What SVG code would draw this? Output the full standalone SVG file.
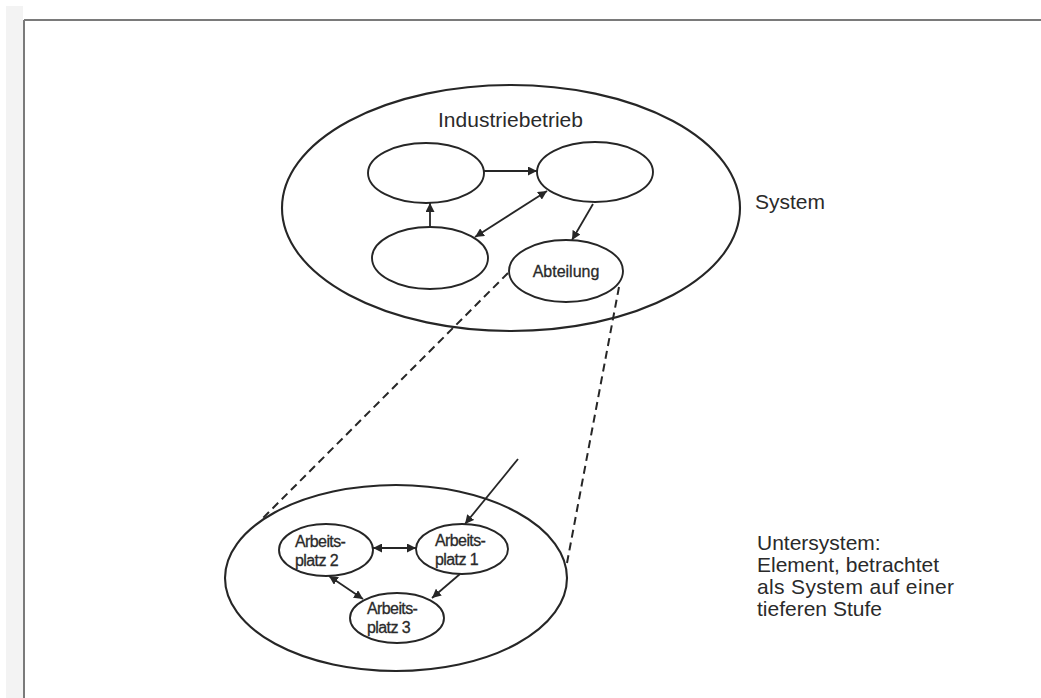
<svg xmlns="http://www.w3.org/2000/svg" width="1041" height="698" viewBox="0 0 1041 698">
  <style>
    .ell { fill: #fff; stroke: #262626; stroke-width: 1.9; }
    .outer { fill: none; stroke: #262626; stroke-width: 2.1; }
    .lbl { font-family: "Liberation Sans", Arial, sans-serif; fill: #2a2a2a; }
    .big { font-size: 21px; }
    .mid { font-size: 16px; stroke: #2a2a2a; stroke-width: 0.3; }
    .small { font-size: 16px; letter-spacing: -0.6px; stroke: #2a2a2a; stroke-width: 0.3; }
    .con { fill: none; stroke: #262626; stroke-width: 1.8; }
    .dash { fill: none; stroke: #262626; stroke-width: 2; stroke-dasharray: 8 5; }
  </style>
  <defs>
    <marker id="ah" viewBox="0 0 10 10" refX="10" refY="5" markerWidth="9" markerHeight="9" markerUnits="userSpaceOnUse" orient="auto-start-reverse">
      <path d="M0,0 L10,5 L0,10 z" fill="#262626"/>
    </marker>
  </defs>

  <rect x="0" y="0" width="1041" height="698" fill="#fff"/>
  <!-- page edge and frame -->
  <rect x="6" y="6" width="17" height="692" fill="#f3f3f3"/>
  <g id="frame" fill="none" stroke="#7a7a7a" stroke-width="2">
    <line x1="24" y1="20" x2="1041" y2="20"/>
    <line x1="24" y1="20" x2="24" y2="698"/>
  </g>

  <!-- upper level: the company as a system -->
  <g id="system">
    <ellipse class="outer" cx="511" cy="208" rx="229" ry="123"/>
    <text class="lbl big" x="438" y="127" textLength="145">Industriebetrieb</text>
  </g>
  <g id="element-a"><ellipse class="ell" cx="426" cy="173" rx="58" ry="30"/></g>
  <g id="element-b"><ellipse class="ell" cx="595" cy="172" rx="58" ry="30"/></g>
  <g id="element-c"><ellipse class="ell" cx="430" cy="258" rx="58" ry="31"/></g>
  <g id="abteilung">
    <ellipse class="ell" cx="566" cy="271" rx="57" ry="31"/>
    <text class="lbl mid" x="566" y="277" text-anchor="middle">Abteilung</text>
  </g>

  <!-- lower level: the department as a subsystem -->
  <g id="subsystem"><ellipse class="outer" cx="396" cy="578" rx="171" ry="93"/></g>
  <g id="platz-2">
    <ellipse class="ell" cx="326" cy="550" rx="47" ry="26"/>
    <text class="lbl small" x="295" y="547">Arbeits-</text>
    <text class="lbl small" x="295" y="566">platz 2</text>
  </g>
  <g id="platz-1">
    <ellipse class="ell" cx="462" cy="549" rx="46" ry="25"/>
    <text class="lbl small" x="435" y="546">Arbeits-</text>
    <text class="lbl small" x="435" y="565">platz 1</text>
  </g>
  <g id="platz-3">
    <ellipse class="ell" cx="397" cy="618" rx="47" ry="25"/>
    <text class="lbl small" x="367" y="614">Arbeits-</text>
    <text class="lbl small" x="367" y="633">platz 3</text>
  </g>

  <!-- side captions -->
  <g id="captions">
    <text class="lbl big" x="755" y="209">System</text>
    <text class="lbl big" x="757" y="550">Untersystem:</text>
    <text class="lbl big" x="757" y="572">Element, betrachtet</text>
    <text class="lbl big" x="757" y="594" textLength="197">als System auf einer</text>
    <text class="lbl big" x="757" y="616">tieferen Stufe</text>
  </g>

  <!-- connectors -->
  <g id="connectors">
    <line class="con" x1="484" y1="171" x2="537" y2="171" marker-end="url(#ah)"/>
    <line class="con" x1="430" y1="227" x2="430" y2="203" marker-end="url(#ah)"/>
    <line class="con" x1="547" y1="191" x2="475" y2="237" marker-start="url(#ah)" marker-end="url(#ah)"/>
    <line class="con" x1="593" y1="204" x2="572" y2="240" marker-end="url(#ah)"/>

    <line class="con" x1="518" y1="459" x2="465" y2="524" marker-end="url(#ah)"/>
    <line class="con" x1="373" y1="548" x2="416" y2="548" marker-start="url(#ah)" marker-end="url(#ah)"/>
    <line class="con" x1="329" y1="576" x2="363" y2="599" marker-start="url(#ah)" marker-end="url(#ah)"/>
    <line class="con" x1="460" y1="574" x2="432" y2="598" marker-end="url(#ah)"/>

    <line class="dash" x1="508" y1="273" x2="262" y2="519"/>
    <line class="dash" x1="619" y1="287" x2="567" y2="563"/>
  </g>
</svg>
